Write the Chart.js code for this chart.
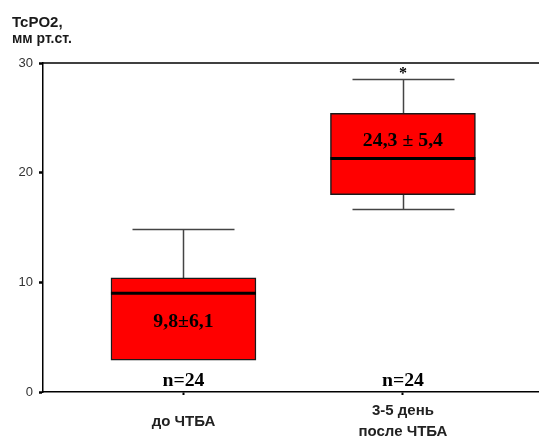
<!DOCTYPE html>
<html>
<head>
<meta charset="utf-8">
<script src="https://cdn.jsdelivr.net/npm/chart.js@4.4.1/dist/chart.umd.min.js"></script>
<style>
  html, body { margin: 0; padding: 0; background: #fff; }
  canvas { display: block; }
</style>
</head>
<body>
<canvas id="chart" width="539" height="437"></canvas>
<script>
// Groups and box-plot statistics (TcPO2, mm Hg)
const categories = ['до ЧТБА', ['3-5 день', 'после ЧТБА']];
const groupX = [1, 2];
const q1 = [2.9, 18.0];
const q3 = [10.4, 25.4];
const medians = [9.0, 21.3];
const whiskerLow = [2.9, 16.7];
const whiskerHigh = [14.9, 28.5];
const meanSdLabels = ['9,8±6,1', '24,3 ± 5,4'];
const sampleSizes = ['n=24', 'n=24'];
const significance = ['', '*'];
const yTicks = [0, 10, 20, 30];

// Draws serif annotation text, slightly widened
function drawWideText(ctx, text, x, y, stretch) {
  ctx.save();
  ctx.translate(x, y);
  ctx.scale(stretch, 1);
  ctx.fillText(text, 0, 0);
  ctx.restore();
}

// Whiskers, medians, annotations and the top frame line
const boxPlotExtras = {
  id: 'boxPlotExtras',
  beforeDatasetsDraw(chart, args, opts) {
    const { ctx } = chart;
    const xs = chart.scales.x, ys = chart.scales.y;
    ctx.save();
    ctx.strokeStyle = opts.whiskerColor;
    ctx.lineWidth = opts.whiskerWidth;
    groupX.forEach((gx, i) => {
      const cx = Math.round(xs.getPixelForValue(gx)) + 0.5;
      const half = opts.capWidth / 2;
      [[q3[i], whiskerHigh[i]], [q1[i], whiskerLow[i]]].forEach(([edge, end]) => {
        if (end === edge) return;
        const pe = ys.getPixelForValue(edge);
        const pw = Math.round(ys.getPixelForValue(end)) + 0.5;
        ctx.beginPath();
        ctx.moveTo(cx, pe);
        ctx.lineTo(cx, pw);
        ctx.moveTo(cx - half, pw);
        ctx.lineTo(cx + half, pw);
        ctx.stroke();
      });
    });
    ctx.restore();
  },
  afterDatasetsDraw(chart, args, opts) {
    const { ctx, chartArea } = chart;
    const xs = chart.scales.x, ys = chart.scales.y;
    const meta = chart.getDatasetMeta(0);
    ctx.save();
    // median lines across each box
    ctx.strokeStyle = '#000';
    ctx.lineWidth = opts.medianWidth;
    meta.data.forEach((bar, i) => {
      const { x, width } = bar.getProps(['x', 'width'], true);
      const py = ys.getPixelForValue(medians[i]);
      ctx.beginPath();
      ctx.moveTo(x - width / 2, py);
      ctx.lineTo(x + width / 2, py);
      ctx.stroke();
    });
    // text annotations
    ctx.fillStyle = '#000';
    ctx.textAlign = 'center';
    ctx.textBaseline = 'alphabetic';
    groupX.forEach((gx, i) => {
      const cx = xs.getPixelForValue(gx);
      ctx.font = opts.statFont;
      drawWideText(ctx, meanSdLabels[i], cx, ys.getPixelForValue(opts.statBaselines[i]), opts.textStretch);
      drawWideText(ctx, sampleSizes[i], cx, chartArea.bottom - opts.countOffset, opts.textStretch);
      if (significance[i]) {
        ctx.font = opts.starFont;
        ctx.fillText(significance[i], cx, ys.getPixelForValue(whiskerHigh[i]) - 1);
      }
    });
    ctx.restore();
  },
  afterDraw(chart, args, opts) {
    const { ctx, chartArea } = chart;
    ctx.save();
    // frame line along the top of the plot
    ctx.strokeStyle = '#000';
    ctx.lineWidth = 1.5;
    ctx.beginPath();
    ctx.moveTo(chartArea.left, chartArea.top);
    ctx.lineTo(chartArea.right, chartArea.top);
    ctx.stroke();
    // y-axis title
    ctx.fillStyle = '#1a1a1a';
    ctx.textAlign = 'left';
    ctx.textBaseline = 'alphabetic';
    ctx.font = 'bold 15px "Liberation Sans", Arial, sans-serif';
    ctx.fillText('TcPO2,', 12, 27);
    ctx.font = 'bold 14px "Liberation Sans", Arial, sans-serif';
    ctx.fillText('мм рт.ст.', 12, 43);
    ctx.restore();
  }
};

new Chart(document.getElementById('chart'), {
  type: 'bar',
  data: {
    datasets: [{
      data: groupX.map((gx, i) => ({ x: gx, y: [q1[i], q3[i]] })),
      backgroundColor: '#ff0000',
      borderColor: '#1a1a1a',
      borderWidth: 1.5,
      borderSkipped: false,
      barThickness: 145
    }]
  },
  options: {
    responsive: false,
    animation: false,
    events: [],
    layout: { padding: { top: 63, left: 0, right: 0, bottom: 0 } },
    plugins: {
      legend: { display: false },
      tooltip: { enabled: false },
      boxPlotExtras: {
        whiskerColor: '#444',
        whiskerWidth: 1.5,
        capWidth: 102,
        medianWidth: 3,
        statBaselines: [5.9, 22.45],
        statFont: 'bold 18px "Liberation Serif", "Times New Roman", serif',
        starFont: 'bold 16px "Liberation Serif", "Times New Roman", serif',
        textStretch: 1.1,
        countOffset: 6
      }
    },
    scales: {
      x: {
        type: 'linear',
        offset: false,
        min: 0.36,
        max: 2.62,
        bounds: 'ticks',
        afterBuildTicks: (scale) => { scale.ticks = groupX.map(v => ({ value: v })); },
        afterFit: (scale) => { scale.height = 45; },
        grid: {
          display: true,
          offset: false,
          drawOnChartArea: false,
          drawTicks: true,
          tickLength: 3,
          tickWidth: 2,
          tickColor: '#000'
        },
        border: { display: true, color: '#000', width: 1.5 },
        ticks: {
          padding: 16,
          crossAlign: 'center',
          color: '#222',
          font: { family: '"Liberation Sans", Arial, sans-serif', size: 15, weight: 'bold', lineHeight: 1.4 },
          maxRotation: 0,
          autoSkip: false,
          callback: (value) => categories[groupX.indexOf(value)]
        }
      },
      y: {
        min: 0,
        max: 30,
        afterBuildTicks: (scale) => { scale.ticks = yTicks.map(v => ({ value: v })); },
        afterFit: (scale) => { scale.width = 43; },
        grid: {
          display: true,
          drawOnChartArea: false,
          drawTicks: true,
          tickLength: 4,
          tickWidth: 2.5,
          tickColor: '#000'
        },
        border: { display: true, color: '#000', width: 1.5 },
        ticks: {
          padding: 6,
          color: '#333',
          font: { family: '"Liberation Sans", Arial, sans-serif', size: 13 }
        }
      }
    }
  },
  plugins: [boxPlotExtras]
});
</script>
</body>
</html>
